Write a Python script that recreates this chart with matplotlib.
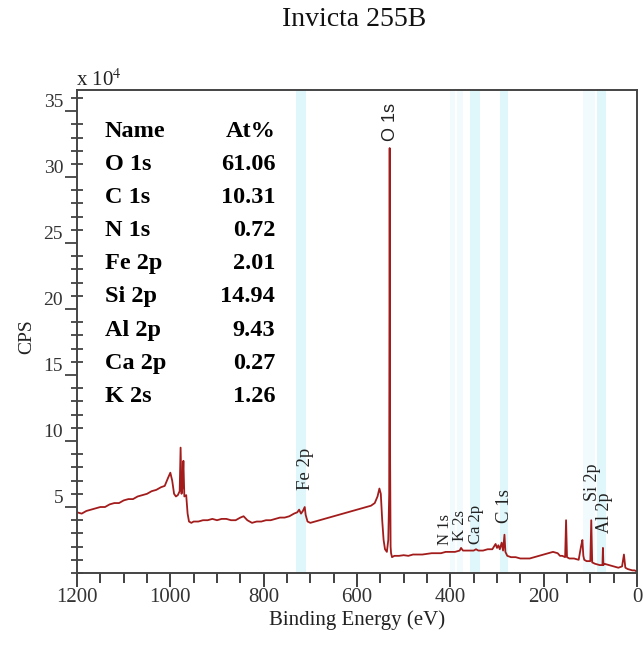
import matplotlib
matplotlib.use("Agg")
import matplotlib.pyplot as plt
from matplotlib.ticker import MultipleLocator

plt.rcParams['font.family'] = ['Liberation Serif', 'DejaVu Serif']
plt.rcParams['mathtext.fontset'] = 'stix'

# Survey spectrum, binding energy (eV) vs counts (x 10^4 CPS)
energy = [1200, 1190, 1180, 1170, 1160, 1150, 1140, 1130, 1120, 1110, 1100, 1090,
          1080, 1070, 1060, 1050, 1040, 1030, 1020, 1012, 1005, 1000, 996, 992,
          988, 984, 980, 978, 976, 974, 972, 970, 966, 963, 960, 955, 950, 940,
          930, 920, 910, 900, 890, 880, 870, 860, 850, 843, 835, 825, 815, 805,
          795, 785, 775, 765, 755, 745, 735, 728, 724, 720, 716, 712, 710, 706,
          700, 690, 680, 670, 660, 650, 640, 630, 620, 610, 600, 590, 580, 570,
          562, 556, 552, 549, 546, 543, 540, 536, 533, 531, 530, 529, 528, 527,
          525, 520, 510, 500, 490, 480, 470, 460, 450, 440, 430, 420, 410, 400,
          390, 380, 377, 373, 360, 350, 345, 340, 330, 320, 310, 303, 300, 297,
          294, 290, 287, 284, 282, 278, 270, 260, 250, 240, 230, 220, 210, 200,
          190, 180, 170, 165, 160, 154, 152, 150, 145, 135, 125, 120, 117, 115,
          113, 108, 100, 98, 96, 90, 80, 74, 73, 72, 70, 60, 50, 40, 32, 28, 25,
          20, 10, 5, 0]
cps = [4.6, 4.5, 4.7, 4.8, 4.9, 5.0, 5.0, 5.2, 5.3, 5.3, 5.5, 5.6,
       5.6, 5.8, 5.9, 6.0, 6.2, 6.3, 6.5, 6.6, 7.2, 7.6, 7.0, 6.0,
       5.8, 5.9, 6.2, 9.5, 6.0, 6.5, 8.5, 5.8, 5.9, 4.5, 3.9, 3.8, 3.9, 3.9,
       4.0, 4.0, 4.1, 4.0, 4.1, 4.1, 4.0, 4.0, 4.2, 4.3, 4.0, 3.8, 3.9, 3.9,
       4.0, 4.0, 4.1, 4.2, 4.2, 4.3, 4.5, 4.6, 4.8, 4.5, 4.7, 5.0, 4.4, 3.9,
       3.8, 3.9, 4.0, 4.1, 4.2, 4.3, 4.4, 4.5, 4.6, 4.7, 4.8, 4.9, 5.0, 5.1,
       5.3, 5.8, 6.4, 6.0, 4.0, 2.5, 1.8, 1.6, 2.5, 6.0, 32.2, 8.4, 2.0, 1.5,
       1.2, 1.3, 1.3, 1.35, 1.3, 1.4, 1.4, 1.4, 1.45, 1.5, 1.5, 1.5, 1.6, 1.6,
       1.6, 1.7, 1.9, 1.7, 1.7, 1.7, 1.8, 1.7, 1.7, 1.8, 1.8, 2.2, 1.9, 2.1,
       1.8, 2.3, 1.7, 2.9, 1.6, 1.3, 1.2, 1.2, 1.1, 1.1, 1.1, 1.2, 1.3, 1.4,
       1.5, 1.6, 1.5, 1.3, 1.3, 1.2, 4.0, 1.2, 1.1, 1.1, 1.0, 2.0, 2.5, 1.3,
       1.0, 0.9, 0.9, 4.0, 0.8, 0.7, 0.6, 0.6, 1.9, 0.6, 0.7, 0.6, 0.5, 0.4, 0.5, 1.4, 0.4,
       0.3, 0.2, 0.2, 0.1]

# highlighted regions (eV) behind the peaks
band_lo = [709, 390, 373, 337, 276, 90, 66]
band_hi = [731, 401, 385, 358, 294, 116, 86]
band_strong = [True, False, False, True, True, False, True]

# peak labels
peak_names = ['O 1s', 'Fe 2p', 'N 1s', 'K 2s', 'Ca 2p', 'C 1s', 'Si 2p', 'Al 2p']
peak_x = [529, 710, 412, 379, 344, 283, 95, 70]
peak_y = [34.2, 7.9, 3.3, 3.6, 3.7, 5.1, 6.9, 4.6]
peak_fs = [13, 13.5, 12, 12, 12, 13.5, 13, 13]

# quantification table
table_names = ['O 1s', 'C 1s', 'N 1s', 'Fe 2p', 'Si 2p', 'Al 2p', 'Ca 2p', 'K 2s']
table_at = ['61.06', '10.31', '0.72', '2.01', '14.94', '9.43', '0.27', '1.26']

fig = plt.figure(figsize=(6.43, 6.48), dpi=100)
ax = fig.add_axes([77/643, 1 - 573/648, 560/643, 483/648])

for lo, hi, strong in zip(band_lo, band_hi, band_strong):
    ax.axvspan(lo, hi, color='#dff6fa' if strong else '#f1fafc', lw=0, zorder=0)

ax.plot(energy, cps, color='#a31c1c', lw=1.3, zorder=2)

for name, x, y, f in zip(peak_names, peak_x, peak_y, peak_fs):
    fam = ['Liberation Sans'] if name == 'O 1s' else ['Liberation Serif']
    ax.text(x, y, name, rotation=90, ha='center', va='center', fontsize=f,
            family=fam, color='#222222', zorder=3)

ax.set_xlim(1200, 0)
ax.set_ylim(0, 36.6)
ax.xaxis.set_major_locator(MultipleLocator(200))
ax.xaxis.set_minor_locator(MultipleLocator(50))
ax.yaxis.set_major_locator(MultipleLocator(5))
ax.yaxis.set_minor_locator(MultipleLocator(1))
ax.set_yticks([5, 10, 15, 20, 25, 30, 35])

ax.tick_params(axis='x', which='major', direction='out', length=10, width=1.3,
               labelsize=15, pad=1, colors='#333333')
ax.tick_params(axis='x', which='minor', direction='out', length=7, width=1.3,
               colors='#333333')
ax.tick_params(axis='y', which='major', direction='out', length=9, width=1.2,
               labelsize=14, pad=1, colors='#333333')
ax.tick_params(axis='y', which='minor', direction='inout', length=8, width=1.2,
               colors='#333333')
for lab in ax.get_yticklabels():
    lab.set_verticalalignment('bottom')

for sp in ax.spines.values():
    sp.set_color('#444444')
    sp.set_linewidth(1.4)

ax.set_xlabel('Binding Energy (eV)', fontsize=15, color='#222222')
ax.xaxis.set_label_coords(0.5, -0.078)
ax.set_ylabel('CPS', fontsize=14, color='#222222')
ax.yaxis.set_label_coords(-0.075, 0.49)

fig.text(76/643, 1 - 80/648, r'x 10$^{4}$', fontsize=15, ha='left', va='center',
         color='#222222')
fig.text(354/643, 1 - 20/648, 'Invicta 255B', fontsize=20, ha='center', va='center',
         color='#111111')

# element table
fs = 17.5
ax.text(0.05, 0.915, 'Name', transform=ax.transAxes, fontsize=fs,
        fontweight='bold', va='center', ha='left')
ax.text(0.354, 0.915, 'At%', transform=ax.transAxes, fontsize=fs,
        fontweight='bold', va='center', ha='right')
for i, (name, at) in enumerate(zip(table_names, table_at)):
    yy = 0.915 - 0.0687 * (i + 1)
    ax.text(0.05, yy, name, transform=ax.transAxes, fontsize=fs,
            fontweight='bold', va='center', ha='left')
    ax.text(0.354, yy, at, transform=ax.transAxes, fontsize=fs,
            fontweight='bold', va='center', ha='right')

fig.savefig('out.png', dpi=100)
